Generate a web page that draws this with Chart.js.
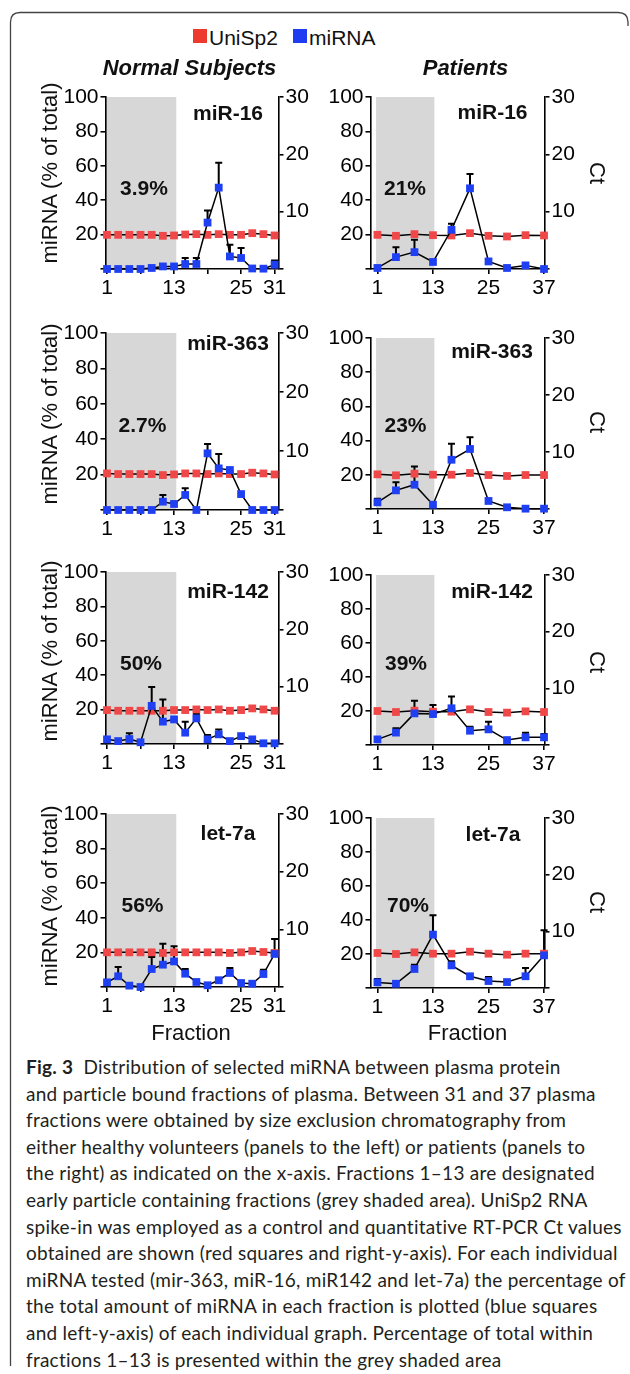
<!DOCTYPE html>
<html>
<head>
<meta charset="utf-8">
<script src="https://cdn.jsdelivr.net/npm/chart.js@4.4.1/dist/chart.umd.min.js"></script>
<style>
  body { margin: 0; width: 630px; height: 1374px; background: #fff; position: relative; overflow: hidden;
         font-family: "Liberation Sans", Arial, Helvetica, sans-serif; color: #111; }
  canvas { position: absolute; z-index: 1; }
  .t { position: absolute; z-index: 5; line-height: 1; white-space: nowrap; transform: translate(-50%, -50%); }
  .tl { position: absolute; z-index: 5; line-height: 1; white-space: nowrap; transform: translate(0, -50%); }
  .b { font-weight: bold; }
  .sq { position: absolute; width: 14px; height: 14px; }
  #caption { position: absolute; left: 26px; top: 1054px; font-family: Lato, "Open Sans", sans-serif;
             font-size: 19px; line-height: 26.6px; letter-spacing: 0.25px; color: #231f20; white-space: nowrap; }
  #frame { position: absolute; left: 0; top: 0; }
</style>
</head>
<body>
<svg id="frame" width="630" height="1374">
  <path d="M10.5,1366 L10.5,22 Q10.5,12.5 20,12.5 L618,12.5 Q628,12.5 628,22 L628,26" fill="none" stroke="#444" stroke-width="1.3"/>
</svg>

<div class="sq" style="left:193px;top:29px;background:#ee3a2e"></div>
<div class="tl" style="left:209px;top:37px;font-size:21px">UniSp2</div>
<div class="sq" style="left:293px;top:29px;background:#1f3cf0"></div>
<div class="tl" style="left:309px;top:37px;font-size:21px">miRNA</div>

<div class="t b" style="left:189.5px;top:68px;font-size:22px;font-style:italic">Normal Subjects</div>
<div class="t b" style="left:465.5px;top:68px;font-size:22px;font-style:italic">Patients</div>

<div id="labels"></div>

<div id="caption"><b>Fig. 3</b>&nbsp; Distribution of selected miRNA between plasma protein<br>and particle bound fractions of plasma. Between 31 and 37 plasma<br>fractions were obtained by size exclusion chromatography from<br>either healthy volunteers (panels to the left) or patients (panels to<br>the right) as indicated on the x-axis. Fractions 1–13 are designated<br>early particle containing fractions (grey shaded area). UniSp2 RNA<br>spike-in was employed as a control and quantitative RT-PCR Ct values<br>obtained are shown (red squares and right-y-axis). For each individual<br>miRNA tested (mir-363, miR-16, miR142 and let-7a) the percentage of<br>the total amount of miRNA in each fraction is plotted (blue squares<br>and left-y-axis) of each individual graph. Percentage of total within<br>fractions 1–13 is presented within the grey shaded area</div>

<script>
// fractions sampled in each group
const NORMAL_FRACTIONS = [1, 3, 5, 7, 9, 11, 13, 15, 17, 19, 21, 23, 25, 27, 29, 31];
const PATIENT_FRACTIONS = [1, 5, 9, 13, 17, 21, 25, 29, 33, 37];

const NORMAL_X_TICKS = [1, 7, 13, 19, 25, 31];
const NORMAL_X_LABELS = [1, 13, 25, 31];
const PATIENT_X_TICKS = [1, 13, 25, 37];
const PATIENT_X_LABELS = [1, 13, 25, 37];
const PCT_TICKS = [0, 20, 40, 60, 80, 100];
const CT_TICKS = [0, 10, 20, 30];

// grey area = early particle fractions
const NORMAL_SHADE = [0.73, 13.4];
const PATIENT_SHADE = [0.7, 13.3];

const MIRNAS = ['miR-16', 'miR-363', 'miR-142', 'let-7a'];
const NORMAL_EARLY = ['3.9%', '2.7%', '50%', '56%'];
const PATIENT_EARLY = ['21%', '23%', '39%', '70%'];

// miRNA % of total (blue), upper error, UniSp2 Ct (red)
const normal_mir16 = [0, 0, 0, 0, 0.6, 1.5, 1.5, 2.9, 2.9, 27, 47.3, 7.3, 6.4, 0.3, 0.2, 2.5];
const normal_mir16_err = [0, 0, 0, 0, 0, 0, 0, 3.5, 3.5, 7, 14.5, 6.8, 5.8, 0, 0, 2.5];
const normal_mir16_ct = [5.96, 5.96, 5.96, 5.96, 5.96, 5.79, 5.85, 6.02, 6.08, 5.96, 6.08, 5.96, 5.96, 6.25, 6.08, 5.85];

const patient_mir16 = [0.6, 6.9, 9.8, 4.1, 22.8, 46.9, 4.4, 0.6, 2.1, 0];
const patient_mir16_err = [0, 5.8, 7.2, 0, 3.5, 8.3, 0, 0, 0, 0];
const patient_mir16_ct = [5.96, 5.79, 6.08, 5.9, 5.85, 6.25, 5.79, 5.67, 5.9, 5.85];

const normal_mir363 = [0, 0, 0, 0, 0, 4.7, 3.4, 8.5, 0, 32, 23.5, 22.6, 9.0, 0, 0, 0];
const normal_mir363_err = [0, 0, 0, 0, 0, 3.8, 1.3, 3.8, 0, 5.3, 8.1, 0, 0, 0, 0, 0];
const normal_mir363_ct = [6.2, 6.09, 6.09, 6.09, 6.09, 5.92, 6.03, 6.2, 6.2, 6.09, 6.2, 6.09, 6.09, 6.32, 6.2, 6.03];

const patient_mir363 = [3.9, 10.9, 14.2, 2.5, 28.8, 35.1, 4.7, 1.0, 0.2, 0.2];
const patient_mir363_err = [2.1, 4.7, 10.7, 0, 9.4, 6.8, 0, 0, 0, 0];
const patient_mir363_ct = [6.08, 5.91, 6.2, 6.02, 6.02, 6.32, 5.96, 5.79, 5.96, 5.96];

const normal_mir142 = [2.7, 1.7, 2.9, 1.0, 22.2, 13, 14.3, 6.6, 14.9, 2.7, 5.6, 1.7, 4.6, 2.7, 0.4, 0.4];
const normal_mir142_err = [0, 0, 3.3, 0, 11, 12.9, 0, 6.4, 2.5, 2.5, 2.9, 0, 0, 0, 0, 0];
const normal_mir142_ct = [5.92, 5.8, 5.8, 5.8, 5.8, 5.8, 5.92, 5.92, 6.03, 5.92, 6.03, 5.8, 5.92, 6.21, 6.03, 5.8];

const patient_mir142 = [3.3, 7.3, 18.6, 18.2, 21.6, 8.4, 9.2, 2.9, 4.5, 4.5];
const patient_mir142_err = [0, 2.5, 7.5, 5.3, 6.9, 2.4, 4.5, 0, 2.7, 2];
const patient_mir142_ct = [6.0, 5.82, 6.06, 5.88, 5.88, 6.29, 5.82, 5.71, 5.94, 5.82];

const normal_let7a = [2.7, 6.2, 0.8, 0, 10.4, 12.9, 14.8, 7.7, 2.9, 1.0, 3.9, 8.1, 2.3, 1.9, 7.5, 19.1];
const normal_let7a_err = [0, 5.4, 0, 0, 7, 12.1, 8.7, 2.7, 0, 0, 0, 2.9, 0, 0, 2.5, 8.7];
const normal_let7a_ct = [6.01, 6.01, 6.01, 6.01, 6.01, 5.9, 6.01, 6.01, 6.01, 6.01, 6.01, 5.9, 6.01, 6.24, 6.07, 5.9];

const patient_let7a = [3.3, 2.5, 11.2, 31.4, 13.3, 6.9, 4.1, 3.5, 6.9, 19.2];
const patient_let7a_err = [2, 0, 2.5, 11.4, 2.4, 0, 2.4, 0.5, 4.9, 14.7];
const patient_let7a_ct = [6.18, 6.0, 6.29, 6.06, 6.06, 6.41, 6.06, 5.88, 6.06, 6.06];

const FONT = '"Liberation Sans", Arial, Helvetica, sans-serif';
const BLUE = '#1f3ff2';
const RED = '#f04848';
const GREY = '#d7d7d7';

const shadePlugin = {
  id: 'shade',
  beforeDraw(chart, args, opts) {
    const { ctx, scales } = chart;
    const x0 = scales.x.getPixelForValue(opts.from);
    const x1 = scales.x.getPixelForValue(opts.to);
    const yTop = scales.y.getPixelForValue(100);
    const yBot = scales.y.getPixelForValue(0);
    ctx.save();
    ctx.fillStyle = GREY;
    ctx.fillRect(x0, yTop, x1 - x0, yBot - yTop);
    ctx.restore();
  }
};

// upward-only error bars with a cap
const errorBarPlugin = {
  id: 'errorBars',
  beforeDatasetsDraw(chart) {
    const ctx = chart.ctx;
    chart.data.datasets.forEach((ds, i) => {
      if (!ds.errors) return;
      const meta = chart.getDatasetMeta(i);
      const yScale = chart.scales[ds.yAxisID];
      ctx.save();
      ctx.strokeStyle = '#000';
      ctx.lineWidth = 2;
      meta.data.forEach((pt, j) => {
        const e = ds.errors[j];
        if (!e) return;
        const yTop = yScale.getPixelForValue(ds.data[j].y + e);
        ctx.beginPath();
        ctx.moveTo(pt.x, pt.y);
        ctx.lineTo(pt.x, yTop);
        ctx.moveTo(pt.x - 3.5, yTop);
        ctx.lineTo(pt.x + 3.5, yTop);
        ctx.stroke();
      });
      ctx.restore();
    });
  }
};

function tickFont() {
  return { family: FONT, size: 21 };
}

function axisStyle() {
  return {
    grid: { drawOnChartArea: false, drawTicks: true, tickLength: 5, color: '#000', lineWidth: 1.6 },
    border: { display: true, color: '#000', width: 1.6 }
  };
}

function makePanel(box, fractions, xMin, xMax, xTicks, xLabels, shade, pct, err, ct) {
  const canvas = document.createElement('canvas');
  const top = box.areaTop - 20;
  const height = box.areaBottom - box.areaTop + 60;
  canvas.width = box.width;
  canvas.height = height;
  canvas.style.left = box.left + 'px';
  canvas.style.top = top + 'px';
  document.body.appendChild(canvas);

  const leftW = box.areaLeft - box.left;
  const rightW = box.left + box.width - box.areaRight;
  const bottomH = height - (box.areaBottom - top);

  const pointStyle = color => ({
    borderColor: '#000',
    borderWidth: 1.5,
    pointStyle: 'rect',
    pointRadius: 5.5,
    pointBackgroundColor: color,
    pointBorderColor: color,
    pointBorderWidth: 0,
    tension: 0,
    clip: false
  });

  new Chart(canvas.getContext('2d'), {
    type: 'line',
    data: {
      datasets: [
        Object.assign({
          label: 'miRNA',
          data: fractions.map((f, i) => ({ x: f, y: pct[i] })),
          yAxisID: 'y',
          errors: err
        }, pointStyle(BLUE)),
        Object.assign({
          label: 'UniSp2',
          data: fractions.map((f, i) => ({ x: f, y: ct[i] })),
          yAxisID: 'y1'
        }, pointStyle(RED))
      ]
    },
    options: {
      responsive: false,
      animation: false,
      devicePixelRatio: 1,
      layout: { padding: { top: 20, left: 0, right: 0, bottom: 0 } },
      plugins: {
        legend: { display: false },
        tooltip: { enabled: false },
        shade: { from: shade[0], to: shade[1] }
      },
      scales: {
        x: Object.assign({
          type: 'linear',
          min: xMin,
          max: xMax,
          afterBuildTicks: s => { s.ticks = xTicks.map(v => ({ value: v })); },
          afterFit: s => { s.height = bottomH; },
          ticks: {
            autoSkip: false, maxRotation: 0, padding: 2, color: '#000', font: tickFont(),
            callback: v => xLabels.includes(v) ? String(v) : ''
          }
        }, axisStyle()),
        y: Object.assign({
          position: 'left',
          min: 0,
          max: 100,
          afterBuildTicks: s => { s.ticks = PCT_TICKS.map(v => ({ value: v })); },
          afterFit: s => { s.width = leftW; },
          ticks: { padding: 2, color: '#000', font: tickFont(), callback: v => v === 0 ? '' : String(v) }
        }, axisStyle()),
        y1: Object.assign({
          position: 'right',
          min: 0,
          max: 30,
          afterBuildTicks: s => { s.ticks = CT_TICKS.map(v => ({ value: v })); },
          afterFit: s => { s.width = rightW; },
          ticks: { padding: 2, color: '#000', font: tickFont(), callback: v => v === 0 ? '' : String(v) }
        }, axisStyle())
      }
    },
    plugins: [shadePlugin, errorBarPlugin]
  });
}

const NORMAL_ROWS = [[97, 269], [333, 510], [572, 744], [814, 987]];
const PATIENT_ROWS = [[97, 269], [338, 509], [575, 745], [818, 988]];

const normalData = [
  [normal_mir16, normal_mir16_err, normal_mir16_ct],
  [normal_mir363, normal_mir363_err, normal_mir363_ct],
  [normal_mir142, normal_mir142_err, normal_mir142_ct],
  [normal_let7a, normal_let7a_err, normal_let7a_ct]
];
const patientData = [
  [patient_mir16, patient_mir16_err, patient_mir16_ct],
  [patient_mir363, patient_mir363_err, patient_mir363_ct],
  [patient_mir142, patient_mir142_err, patient_mir142_ct],
  [patient_let7a, patient_let7a_err, patient_let7a_ct]
];

for (let r = 0; r < 4; r++) {
  makePanel({ left: 0, width: 315, areaLeft: 105.5, areaRight: 278.5, areaTop: NORMAL_ROWS[r][0], areaBottom: NORMAL_ROWS[r][1] },
    NORMAL_FRACTIONS, 0.73, 31.7, NORMAL_X_TICKS, NORMAL_X_LABELS, NORMAL_SHADE, ...normalData[r]);
  makePanel({ left: 315, width: 315, areaLeft: 370.5, areaRight: 544.5, areaTop: PATIENT_ROWS[r][0], areaBottom: PATIENT_ROWS[r][1] },
    PATIENT_FRACTIONS, -0.5, 37.1, PATIENT_X_TICKS, PATIENT_X_LABELS, PATIENT_SHADE, ...patientData[r]);
}

// text placed over the panels
const labelPos = {
  normalName: [[228, 111.5], [228, 342], [228, 590], [228, 832]],
  patientName: [[492.5, 111], [492, 350], [492, 590], [493, 833]],
  normalPct: [[144, 187], [142.5, 423.5], [141, 662], [142.5, 904]],
  patientPct: [[405, 187], [405.5, 423.5], [406, 662], [408, 904]],
  yTitle: [172.5, 414, 651, 896],
  ctTitle: [173, 422, 662, 902]
};

function addText(html, x, y, style) {
  const d = document.createElement('div');
  d.className = 't';
  d.style.left = x + 'px';
  d.style.top = y + 'px';
  d.style.cssText += style;
  d.innerHTML = html;
  document.getElementById('labels').appendChild(d);
}

for (let r = 0; r < 4; r++) {
  addText(MIRNAS[r], labelPos.normalName[r][0], labelPos.normalName[r][1], 'font-size:21px;font-weight:bold;');
  addText(MIRNAS[r], labelPos.patientName[r][0], labelPos.patientName[r][1], 'font-size:21px;font-weight:bold;');
  addText(NORMAL_EARLY[r], labelPos.normalPct[r][0], labelPos.normalPct[r][1], 'font-size:21px;font-weight:bold;');
  addText(PATIENT_EARLY[r], labelPos.patientPct[r][0], labelPos.patientPct[r][1], 'font-size:21px;font-weight:bold;');
  addText('miRNA (% of total)', 50, labelPos.yTitle[r], 'font-size:22px;transform:translate(-50%,-50%) rotate(-90deg);');
  addText('Ct', 597, labelPos.ctTitle[r], 'font-size:22px;transform:translate(-50%,-50%) rotate(90deg);');
}
addText('Fraction', 191, 1033, 'font-size:22px;');
addText('Fraction', 467.5, 1032.5, 'font-size:22px;');
</script>
</body>
</html>
